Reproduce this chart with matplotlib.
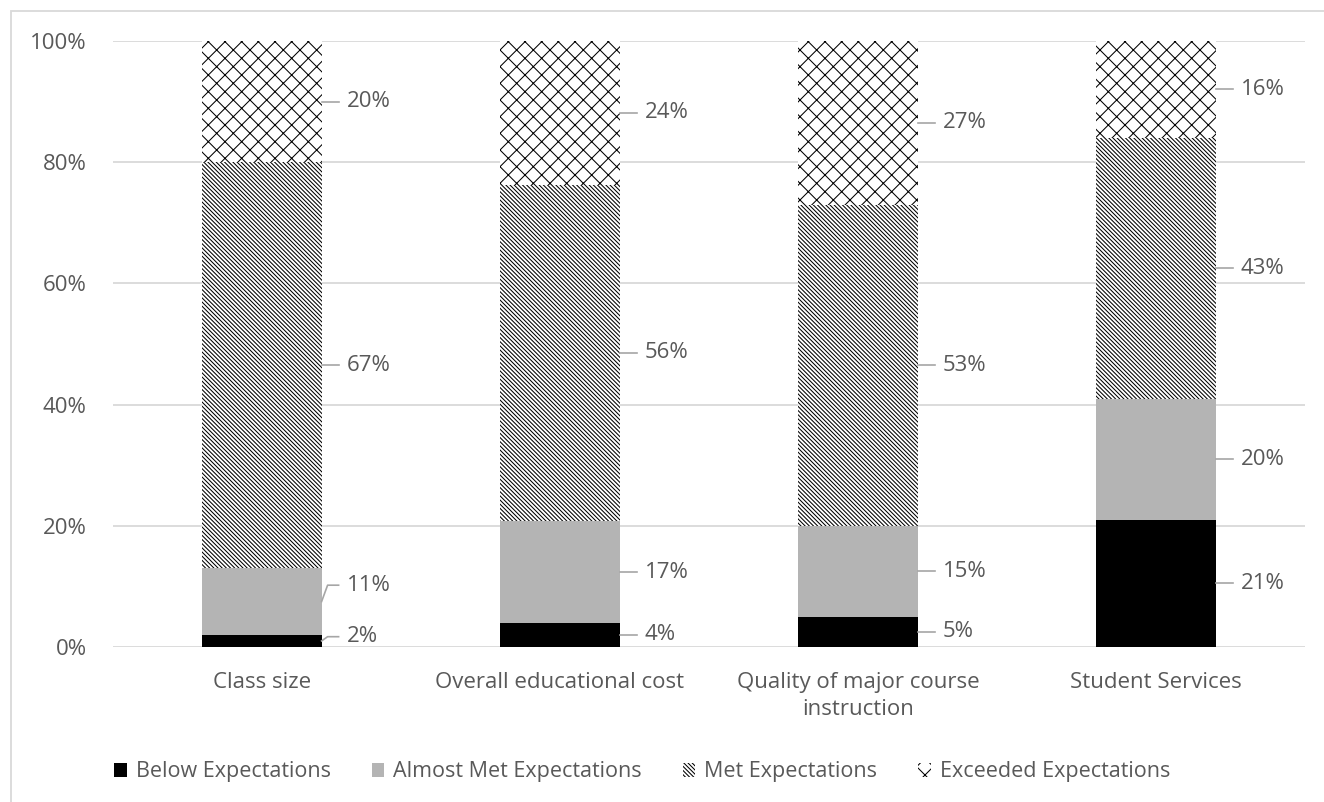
import matplotlib
matplotlib.use("Agg")
import matplotlib.pyplot as plt
import matplotlib.patches as mpatches
import numpy as np

categories = ["Class size", "Overall educational cost",
              "Quality of major course\ninstruction", "Student Services"]
series_names = ["Below Expectations", "Almost Met Expectations",
                "Met Expectations", "Exceeded Expectations"]
below = [2, 4, 5, 21]
almost = [11, 17, 15, 20]
met = [67, 56, 53, 43]
exceeded = [20, 24, 27, 16]

TXT = "#595959"
GRID = "#d9d9d9"
LEAD = "#a6a6a6"
FS = 16

plt.rcParams['font.family'] = ['Open Sans', 'DejaVu Sans']
plt.rcParams['hatch.linewidth'] = 0.75

fig = plt.figure(figsize=(13.24, 8.02), dpi=100)
ax = fig.add_axes([113/1324, 1-647/802, (1305-113)/1324, (647-41)/802])

# chart border
fig.add_artist(mpatches.Rectangle((11/1324, -0.1), 1.2, 1-11/802+0.1,
                                  transform=fig.transFigure, fill=False,
                                  edgecolor=GRID, linewidth=1.3))

data = np.array([below, almost, met, exceeded], dtype=float)
pct = data / data.sum(axis=0) * 100   # 100% stacked
x = np.arange(len(categories))
width = 0.4

styles = [dict(color="black"),
          dict(color="#b4b4b4"),
          dict(facecolor="white", edgecolor="black", hatch="\\" * 8, linewidth=0),
          dict(facecolor="white", edgecolor="black", hatch="xx", linewidth=0)]

bottom = np.zeros(len(categories))
handles = []
for k in range(4):
    b = ax.bar(x, pct[k], width, bottom=bottom, label=series_names[k],
               zorder=2, **styles[k])
    handles.append(b)
    bottom += pct[k]

# data labels with leader lines
px = 1 / 298.0  # one pixel in x data units
for i in range(len(categories)):
    base = 0
    prev = None
    for k in range(4):
        mid = base + pct[k, i] / 2
        ly = max(mid, 1.7) if prev is None else max(mid, prev + 8.5)
        prev = ly
        xr = x[i] + width / 2
        ax.plot([xr, xr + 6*px, xr + 17*px], [mid, ly, ly], color=LEAD,
                lw=1.2, clip_on=False, zorder=3)
        ax.text(xr + 25*px, ly, "%d%%" % data[k, i], color=TXT, fontsize=FS,
                va="center", ha="left")
        base += pct[k, i]

ax.set_xlim(-0.5, 3.5)
ax.set_ylim(0, 100)
ax.set_yticks(np.arange(0, 101, 20))
ax.set_yticklabels(["%d%%" % v for v in range(0, 101, 20)])
ax.set_xticks(x)
ax.set_xticklabels(categories, linespacing=1.35)
ax.tick_params(axis="both", length=0, labelsize=FS, labelcolor=TXT)
ax.tick_params(axis="y", pad=19)
ax.tick_params(axis="x", pad=18)
ax.yaxis.grid(True, color=GRID, linewidth=1.3, zorder=0)
ax.set_axisbelow(True)
for s in ax.spines.values():
    s.set_visible(False)

fig.legend(handles=handles, loc="center", bbox_to_anchor=(642/1324, 1-772/802),
           ncol=4, frameon=False, fontsize=15.5, labelcolor=TXT,
           handlelength=0.6, handleheight=0.6, handletextpad=0.4,
           columnspacing=1.9)

fig.savefig("out.png", dpi=100)
